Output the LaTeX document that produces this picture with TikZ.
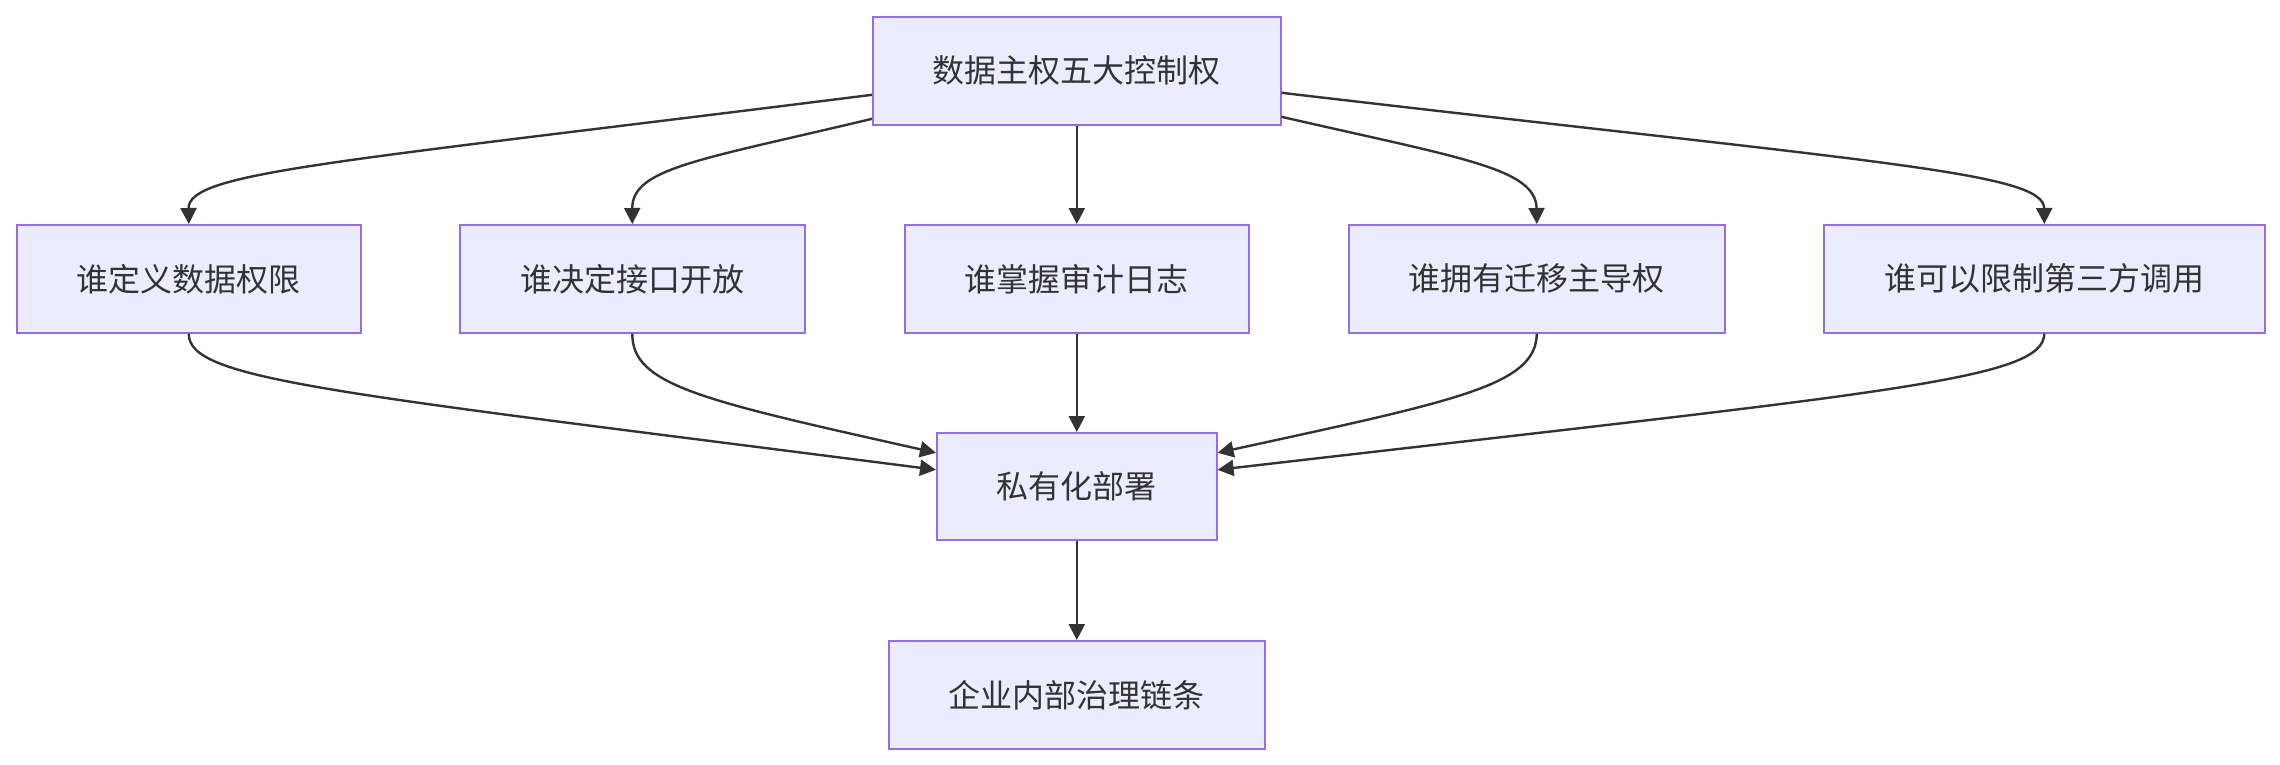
\documentclass[tikz,border=0pt]{standalone}
\usepackage{fontspec}
\setmainfont{Noto Sans CJK SC}
\usetikzlibrary{arrows.meta}
\definecolor{nodefill}{HTML}{ECECFF}
\definecolor{nodeborder}{HTML}{9370DB}
\definecolor{edgecol}{HTML}{333333}
\definecolor{textcol}{HTML}{333333}
\tikzset{
  box/.style={draw=nodeborder, fill=nodefill, line width=1.6pt, inner sep=0pt,
    text=textcol, font=\fontsize{32pt}{38pt}\selectfont, anchor=north west},
  conn/.style={draw=edgecol, line width=2.4pt, -{Triangle[length=16pt,width=16pt]}}
}
\begin{document}
\begin{tikzpicture}[x=1pt,y=-1pt]
\useasboundingbox (0,0) rectangle (2280,764);
% nodes
\node[box, minimum width=408pt, minimum height=108pt] (top) at (872,16) {数据主权五大控制权};
\node[box, minimum width=344pt, minimum height=108pt] (a) at (16,224) {谁定义数据权限};
\node[box, minimum width=345pt, minimum height=108pt] (b) at (459,224) {谁决定接口开放};
\node[box, minimum width=344pt, minimum height=108pt] (c) at (904,224) {谁掌握审计日志};
\node[box, minimum width=376pt, minimum height=108pt] (d) at (1348,224) {谁拥有迁移主导权};
\node[box, minimum width=441pt, minimum height=108pt] (e) at (1823,224) {谁可以限制第三方调用};
\node[box, minimum width=280pt, minimum height=107pt] (p) at (936,432) {私有化部署};
\node[box, minimum width=376pt, minimum height=108pt] (g) at (888,640) {企业内部治理链条};
% top edges
\draw[conn] ([yshift=-24pt]top.west) .. controls (330,163) and (188,172) .. (a.north);
\draw[conn] ([yshift=-48pt]top.west) .. controls (700,160) and (632,168) .. (b.north);
\draw[conn] (top.south) -- (c.north);
\draw[conn] ([yshift=-46pt]top.east) .. controls (1460,158) and (1536,168) .. (d.north);
\draw[conn] ([yshift=-22pt]top.east) .. controls (1880,163) and (2044,172) .. (e.north);
% bottom edges
\draw[conn] (a.south) .. controls (188,380) and (330,392) .. ([yshift=16.5pt]p.west);
\draw[conn] (b.south) .. controls (632,385) and (700,400) .. ([yshift=33.5pt]p.west);
\draw[conn] (c.south) -- (p.north);
\draw[conn] (d.south) .. controls (1536,385) and (1460,400) .. ([yshift=33.5pt]p.east);
\draw[conn] (e.south) .. controls (2044,380) and (1890,392) .. ([yshift=16.5pt]p.east);
\draw[conn] (p.south) -- (g.north);
\end{tikzpicture}
\end{document}
